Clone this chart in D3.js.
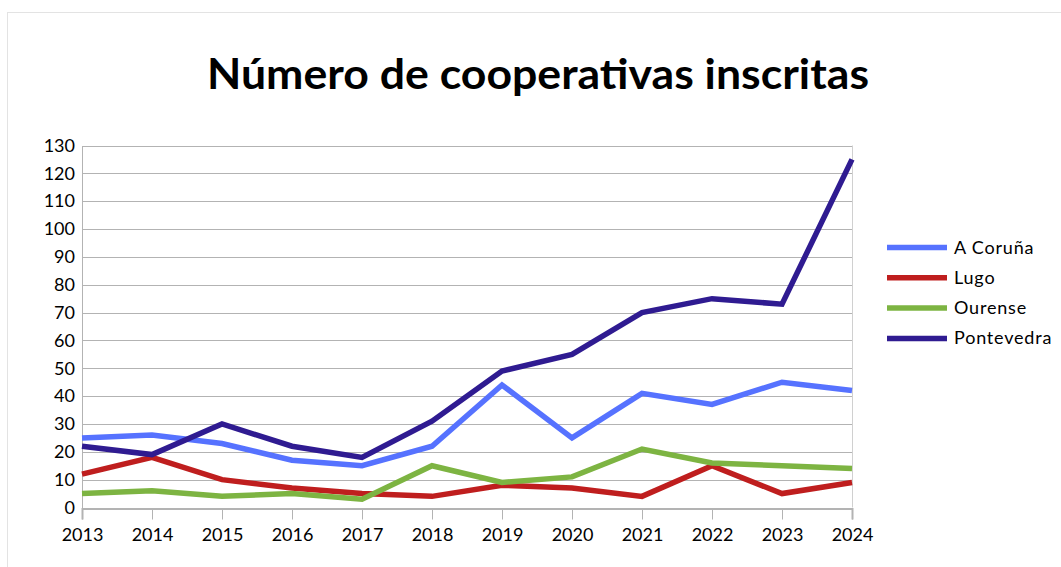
<!DOCTYPE html>
<html>
<head>
<meta charset="utf-8">
<script src="https://cdn.jsdelivr.net/npm/d3@7"></script>
<style>
  body { margin: 0; background: #fff; }
  svg { display: block; font-family: Lato, "Open Sans", sans-serif; }
</style>
</head>
<body>
<div id="chart"></div>
<script>
// Chart data
const years = [2013, 2014, 2015, 2016, 2017, 2018, 2019, 2020, 2021, 2022, 2023, 2024]
const seriesNames = ['A Coruña', 'Lugo', 'Ourense', 'Pontevedra']
const aCoruna = [25, 26, 23, 17, 15, 22, 44, 25, 41, 37, 45, 42]
const lugo = [12, 18, 10, 7, 5, 4, 8, 7, 4, 15, 5, 9]
const ourense = [5, 6, 4, 5, 3, 15, 9, 11, 21, 16, 15, 14]
const pontevedra = [22, 19, 30, 22, 18, 31, 49, 55, 70, 75, 73, 125]
const yTicks = d3.range(0, 131, 10)
const colors = ['#5672ff', '#bf1e1e', '#7db442', '#2f1b91']
const title = 'Número de cooperativas inscritas'

const width = 1061, height = 567
const plot = { left: 82, right: 852, top: 145.5, bottom: 507.5 }

const svg = d3.select('#chart').append('svg')
    .attr('width', width)
    .attr('height', height)

// Outer chart border
svg.append('rect')
    .attr('x', 7.5).attr('y', 12.5)
    .attr('width', width).attr('height', height)
    .attr('fill', 'none')
    .attr('stroke', '#e3e3e3')

// Title
svg.append('text')
    .attr('x', 538).attr('y', 89)
    .attr('text-anchor', 'middle')
    .attr('font-size', 42)
    .attr('font-weight', 'bold')
    .attr('textLength', 662)
    .attr('lengthAdjust', 'spacingAndGlyphs')
    .text(title)

// Scales
const x = d3.scaleLinear().domain([years[0], years[years.length - 1]]).range([plot.left, plot.right])
const y = d3.scaleLinear().domain([0, 130]).range([plot.bottom, plot.top])

// Gridlines
svg.append('g')
    .selectAll('line')
    .data(yTicks)
    .enter()
    .append('line')
    .attr('x1', plot.left).attr('x2', plot.right)
    .attr('y1', d => Math.round(y(d)) + 0.5).attr('y2', d => Math.round(y(d)) + 0.5)
    .attr('stroke', '#b3b3b3')
    .attr('stroke-width', 1)

// Y axis
const yAxis = svg.append('g')
    .attr('transform', `translate(${plot.left},0)`)
    .call(d3.axisLeft(y).tickValues(yTicks).tickSize(0).tickPadding(7))
yAxis.select('.domain').attr('stroke', '#b3b3b3')
yAxis.selectAll('text').attr('font-size', 18).attr('font-family', 'Lato').attr('fill', '#000')

// Right frame line
svg.append('line')
    .attr('x1', plot.right + 0.5).attr('x2', plot.right + 0.5)
    .attr('y1', plot.top).attr('y2', plot.bottom)
    .attr('stroke', '#d0d0d0')

// X axis
const xAxis = svg.append('g')
    .attr('transform', `translate(0,${Math.round(plot.bottom) + 0.5})`)
    .call(d3.axisBottom(x).tickValues(years).tickFormat(d3.format('d')).tickSize(11).tickPadding(9))
xAxis.select('.domain').attr('stroke', '#b3b3b3').attr('stroke-width', 2)
xAxis.selectAll('line').attr('stroke', '#b3b3b3')
xAxis.selectAll('text').attr('font-size', 18).attr('font-family', 'Lato').attr('fill', '#000')

// Lines
const allSeries = [aCoruna, lugo, ourense, pontevedra]
const line = d3.line()
    .x((d, i) => x(years[i]))
    .y(d => y(d))

svg.append('g')
    .selectAll('path')
    .data(allSeries)
    .enter()
    .append('path')
    .attr('d', d => line(d))
    .attr('fill', 'none')
    .attr('stroke', (d, i) => colors[i])
    .attr('stroke-width', 5.5)
    .attr('stroke-linejoin', 'miter')

// Legend
const legend = svg.append('g')
    .selectAll('g')
    .data(seriesNames)
    .enter()
    .append('g')
    .attr('transform', (d, i) => `translate(887, ${247.5 + i * 30.3})`)

legend.append('line')
    .attr('x1', 0).attr('x2', 60)
    .attr('stroke', (d, i) => colors[i])
    .attr('stroke-width', 5.5)

legend.append('text')
    .attr('x', 67).attr('y', 6)
    .attr('font-size', 18)
    .attr('letter-spacing', 0.8)
    .text(d => d)
</script>
</body>
</html>
